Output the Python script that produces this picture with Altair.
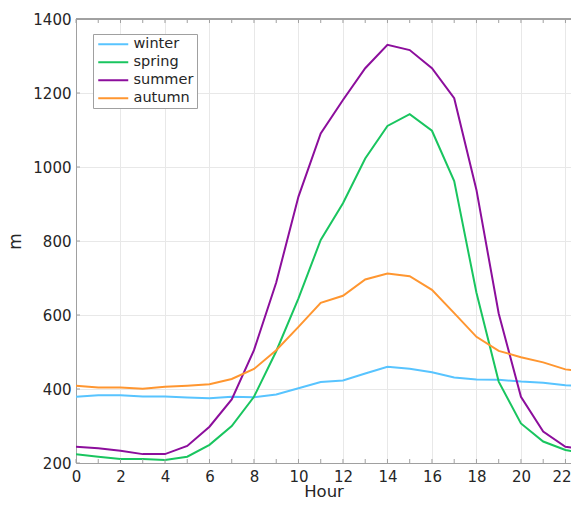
import altair as alt
import pandas as pd

hours = list(range(24))
winter = [379, 383, 383, 380, 380, 377, 375, 379, 378, 385, 402, 419, 423, 442, 460, 455, 445, 431, 426, 425, 420, 417, 410, 408]
spring = [224, 217, 211, 211, 208, 217, 249, 300, 379, 502, 645, 803, 902, 1023, 1111, 1143, 1098, 962, 660, 420, 307, 258, 235, 224]
summer = [244, 240, 233, 224, 224, 246, 298, 372, 505, 688, 920, 1091, 1181, 1267, 1330, 1316, 1267, 1186, 938, 604, 379, 285, 244, 235]
autumn = [409, 404, 404, 401, 406, 409, 413, 427, 454, 505, 568, 633, 652, 696, 712, 705, 668, 605, 541, 503, 486, 472, 453, 446]

seasons = ["winter", "spring", "summer", "autumn"]
colors = ["#58C4FF", "#19C55F", "#8C0E9C", "#FF9630"]
x_ticks = list(range(23))
y_ticks = [200, 400, 600, 800, 1000, 1200, 1400]

rows = []
for name, vals in zip(seasons, [winter, spring, summer, autumn]):
    for h, v in zip(hours, vals):
        rows.append({"Hour": h, "m": v, "season": name})
df = pd.DataFrame(rows)

W, H = 495, 444
XMAX = 22.25
FONT = "DejaVu Sans"
AX = "#a0a0a0"
TXT = "#262626"

xs = alt.Scale(domain=[0, XMAX], nice=False, zero=False)
ys = alt.Scale(domain=[200, 1400], nice=False, zero=False)

lines = alt.Chart(df).mark_line(strokeWidth=2, clip=True).encode(
    x=alt.X("Hour:Q", scale=xs,
            axis=alt.Axis(values=x_ticks, grid=True, gridColor="#e8e8e8", ticks=False,
                          labelExpr="datum.value % 2 == 0 ? datum.label : ''",
                          labelOffset={"condition": {"test": "datum.value == 22", "value": -4},
                                       "value": 0},
                          labelFontSize=15, labelColor=TXT, labelPadding=6, labelFont=FONT,
                          domainColor=AX, title="Hour", titleFontSize=16.5, titleFont=FONT,
                          titleFontWeight="normal", titleColor=TXT,
                          titleBaseline="alphabetic", titleY=33,
                          labelFlush=False)),
    y=alt.Y("m:Q", scale=ys,
            axis=alt.Axis(values=y_ticks, grid=True, gridColor="#e8e8e8", ticks=False,
                          format="d",
                          labelFontSize=15, labelColor=TXT, labelPadding=5, labelFont=FONT,
                          domainColor=AX, title="m", titleFontSize=17, titleFont=FONT,
                          titleFontWeight="normal", titleColor=TXT, titlePadding=8,
                          titleLimit=300)),
    color=alt.Color("season:N", scale=alt.Scale(domain=seasons, range=colors),
                    sort=seasons,
                    legend=alt.Legend(title=None, orient="none", legendX=17, legendY=15,
                                      fillColor="white", strokeColor=AX, padding=3,
                                      symbolType="M-1,0L5,0", symbolSize=100,
                                      symbolStrokeWidth=2,
                                      labelFontSize=14.5, labelFont=FONT, labelColor=TXT,
                                      labelOffset=23, rowPadding=3)),
)

xt = pd.DataFrame({"Hour": x_ticks})
yt = pd.DataFrame({"m": y_ticks})

bot_ticks = alt.Chart(xt).mark_rule(color=AX).encode(
    x=alt.X("Hour:Q", scale=xs), y=alt.value(H), y2=alt.value(H - 4))
top_ticks = alt.Chart(xt).mark_rule(color=AX).encode(
    x=alt.X("Hour:Q", scale=xs), y=alt.value(0), y2=alt.value(4))
left_ticks = alt.Chart(yt).mark_rule(color=AX).encode(
    y=alt.Y("m:Q", scale=ys), x=alt.value(0), x2=alt.value(4))
top_border = alt.Chart(yt).mark_rule(color=AX).encode(
    x=alt.value(0), x2=alt.value(W), y=alt.value(0))

chart = alt.layer(lines, bot_ticks, top_ticks, left_ticks, top_border).properties(
    width=W, height=H,
    autosize=alt.AutoSizeParams(type="none"),
    padding={"left": 68, "top": 11, "right": 0, "bottom": 36},
).configure_view(stroke=None).configure(background="white")

chart.save("out.html", embed_options={"renderer": "svg", "actions": False})
